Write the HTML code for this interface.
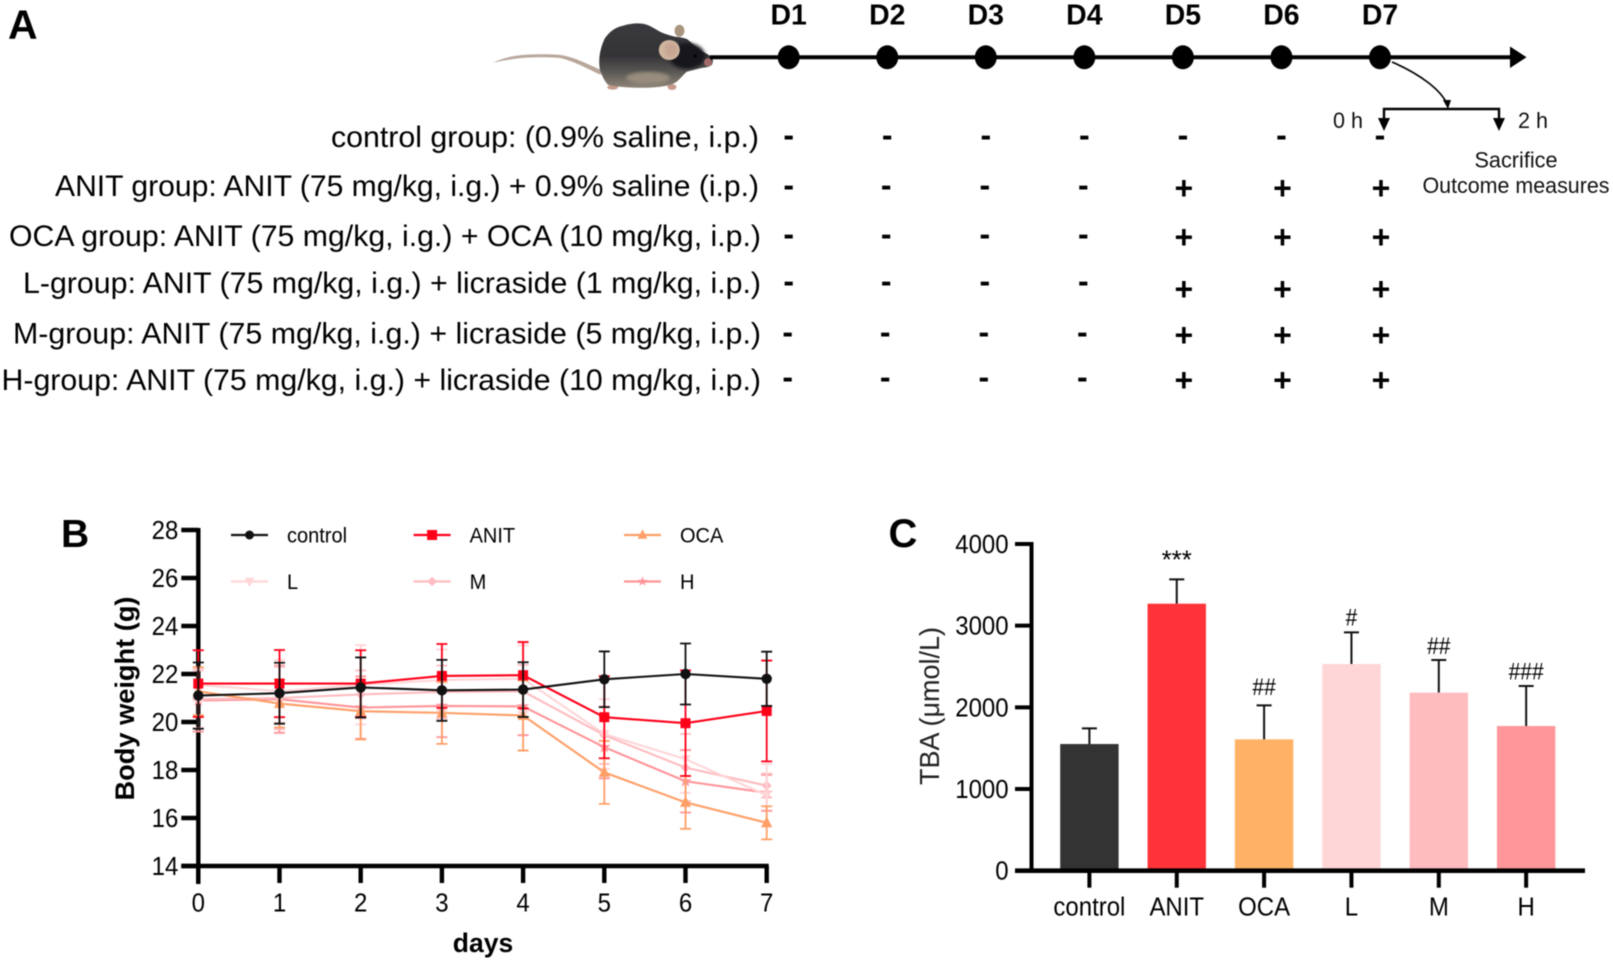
<!DOCTYPE html>
<html lang="en">
<head>
<meta charset="utf-8">
<title>Licraside cholestasis study figure</title>
<style>
html,body{margin:0;padding:0;background:#fff;}
svg{display:block;font-family:"Liberation Sans",Arial,sans-serif;filter:blur(0.4px);}
</style>
</head>
<body>
<svg id="fig" xmlns="http://www.w3.org/2000/svg" width="1613" height="962" viewBox="0 0 1613 962">
  <defs>
    <linearGradient id="furGrad" x1="0" y1="0" x2="0" y2="1">
      <stop offset="0" stop-color="#3a3a3e"/>
      <stop offset="0.5" stop-color="#343336"/>
      <stop offset="0.76" stop-color="#5c5955"/>
      <stop offset="1" stop-color="#8f8578"/>
    </linearGradient>
    <filter id="softBlur"><feGaussianBlur stdDeviation="1.6"/></filter>
  </defs>
  <rect x="0" y="0" width="1613" height="962" fill="#fff"/>

  <text x="8" y="38.5" font-size="41" font-weight="700" fill="#000">A</text>
  <text x="61" y="547" font-size="39" font-weight="700" fill="#000">B</text>
  <text x="888.5" y="547" font-size="40" font-weight="700" fill="#000">C</text>

  <g>
    <path d="M493,62.8 C503,58 512,56 522,55 C536,54 550,54 561,55 C574,57 590,65 601,70 L601,75 C590,70 574,61 560,58 C548,57 534,57 522,58 C512,59 503,60.5 493,62.8 Z" fill="#b9a79c"/>
    <ellipse cx="612.7" cy="87.3" rx="5.5" ry="2.4" fill="#c79a8c"/>
    <ellipse cx="635" cy="85" rx="4" ry="2.6" fill="#b58a78"/>
    <ellipse cx="672" cy="87" rx="4.5" ry="3" fill="#c79a8c"/>
    <path d="M600,70 C598,60 600,48 605,38 C610,31 616,27 623,25.7 C630,23.5 637,23 643,23.7 C650,25 655,29 660,31.7 C665,34 670,35.5 675,36.7 C679,37 683,37.5 687,39 C692,43 696,47 700,50 C705,53 710,55 712.7,58.3 C713,61 713,63 711.7,65 C709,67 706,67.5 703,67.7 C697,69 692,70 686.7,71.7 C683,75 680,79 676.7,81.7 C673,84 670,85 666.7,85.7 C656,87.5 646,88 636.7,87.7 C627,87.5 617,87 608.3,85 C605,82 603,78 600,70 Z" fill="url(#furGrad)"/>
    <ellipse cx="687" cy="56" rx="18" ry="13" fill="#17171a" filter="url(#softBlur)"/>
    <ellipse cx="648" cy="78" rx="22" ry="6" fill="#978c7d" filter="url(#softBlur)"/>
    <ellipse cx="679.5" cy="30.8" rx="5" ry="6" fill="#a9957f"/>
    <ellipse cx="669.3" cy="50" rx="10.5" ry="10" fill="#cfb69f"/>
    <ellipse cx="671" cy="50" rx="6.5" ry="7.5" fill="#c8a593" filter="url(#softBlur)"/>
    <circle cx="695" cy="56" r="1.6" fill="#050505"/>
    <circle cx="708" cy="62.3" r="4" fill="#a56a6a"/>
  </g>

  <g>
    <line x1="710" y1="57.3" x2="1516" y2="57.3" stroke="#000" stroke-width="4"/>
    <polygon points="1510,46.5 1526.5,57.3 1510,68" fill="#000"/>
    <path d="M1392,62 C1420,74 1441,90 1447,104" fill="none" stroke="#000" stroke-width="1.7"/>
    <polygon points="1443,100 1451,100 1448,109" fill="#000"/>
    <path d="M1384,126 L1384,109 L1499,109 L1499,126" fill="none" stroke="#000" stroke-width="2.4"/>
    <polygon points="1378,118 1390,118 1384,131" fill="#000"/>
    <polygon points="1493,118 1505,118 1499,131" fill="#000"/>
    <text x="1348" y="128" font-size="22" text-anchor="middle" fill="#111" textLength="30" lengthAdjust="spacingAndGlyphs">0 h</text>
    <text x="1533" y="128" font-size="22" text-anchor="middle" fill="#111" textLength="30" lengthAdjust="spacingAndGlyphs">2 h</text>
    <text x="1516" y="167.5" font-size="22" text-anchor="middle" fill="#111" textLength="83" lengthAdjust="spacingAndGlyphs">Sacrifice</text>
    <text x="1516" y="193" font-size="22" text-anchor="middle" fill="#111" textLength="187" lengthAdjust="spacingAndGlyphs">Outcome measures</text>
  </g>
  <g id="schedule"></g>

  <g id="chartB"></g>
  <g id="chartC"></g>
</svg>

<script>
/* ---------- panel A schedule ---------- */
var dayNames = ['D1','D2','D3','D4','D5','D6','D7'];
var groupLabels = [
  'control group: (0.9% saline, i.p.)',
  'ANIT group: ANIT (75 mg/kg, i.g.) + 0.9% saline (i.p.)',
  'OCA group: ANIT (75 mg/kg, i.g.) + OCA (10 mg/kg, i.p.)',
  'L-group: ANIT (75 mg/kg, i.g.) + licraside (1 mg/kg, i.p.)',
  'M-group: ANIT (75 mg/kg, i.g.) + licraside (5 mg/kg, i.p.)',
  'H-group: ANIT (75 mg/kg, i.g.) + licraside (10 mg/kg, i.p.)'
];
var groupMarks = ['-------','----+++','----+++','----+++','----+++','----+++'];

/* ---------- panel B data ---------- */
var bDays = [0,1,2,3,4,5,6,7];
var bYTicks = [14,16,18,20,22,24,26,28];
var seriesNames = ['control','ANIT','OCA','L','M','H'];
var controlMeans = [21.1,21.2,21.44,21.32,21.35,21.78,22.0,21.8];
var controlErrors = [1.38,1.27,1.25,1.27,1.14,1.16,1.27,1.13];
var anitMeans = [21.6,21.6,21.6,21.92,21.95,20.2,19.95,20.46];
var anitErrors = [1.39,1.4,1.39,1.33,1.38,1.71,2.2,2.1];
var ocaMeans = [21.28,20.77,20.45,20.38,20.27,17.9,16.65,15.8];
var ocaErrors = [1.0,1.0,1.18,1.29,1.46,1.31,1.1,0.69];
var lMeans = [21.55,21.28,21.55,21.75,21.8,19.5,18.45,16.95];
var lErrors = [0.65,1.3,1.65,1.27,1.4,1.45,1.4,1.3];
var mMeans = [20.95,21.0,21.15,21.25,21.28,19.45,18.1,17.35];
var mErrors = [1.2,1.3,1.0,1.1,1.1,1.2,1.4,0.5];
var hMeans = [20.9,20.95,20.6,20.67,20.65,18.95,17.53,17.05];
var hErrors = [1.3,1.4,1.3,1.3,1.2,1.3,1.3,0.75];

/* ---------- panel C data ---------- */
var cCategories = ['control','ANIT','OCA','L','M','H'];
var cValues = [1551,3269,1608,2531,2180,1771];
var cErrorTops = [1743,3567,2024,2918,2580,2261];
var cSignificance = ['','***','##','#','##','###'];
var cYTicks = [0,1000,2000,3000,4000];

var NS = 'http://www.w3.org/2000/svg';
function make(parent, tag, attrs, txt){
  var el = document.createElementNS(NS, tag);
  for (var k in attrs) el.setAttribute(k, attrs[k]);
  if (txt !== undefined) el.textContent = txt;
  parent.appendChild(el);
  return el;
}
/* horizontally condense text: the reference type is taller than it is wide */
function squeeze(el, ratio){
  var w = el.getComputedTextLength();
  el.setAttribute('textLength', (w * ratio).toFixed(2));
  el.setAttribute('lengthAdjust', 'spacingAndGlyphs');
}

/* ===== panel A ===== */
(function(){
  var root = document.getElementById('schedule');
  var dayX = function(i){ return 788.7 + i * 98.55; };
  var rowY = function(r){ return [138,188,237,284,335,380][r]; };
  var labelBase = [147,196,246,293,343.5,390];
  var labelLeft = [331,55,9,23,13,1.5];
  var labelRight = [759,759,761,761,761,761];
  dayNames.forEach(function(name,i){
    var t = make(root,'text',{x:dayX(i),y:24.5,'font-size':29,'font-weight':700,'text-anchor':'middle',fill:'#000'},name);
    
    
    squeeze(t, 0.98);
    var c = make(root,'ellipse',{cx:dayX(i),cy:57.3,rx:11,ry:12,fill:'#000'});
    
    
  });
  groupLabels.forEach(function(label,r){
    var t = make(root,'text',{x:labelLeft[r],y:labelBase[r],'font-size':29.5,fill:'#000',textLength:labelRight[r]-labelLeft[r],lengthAdjust:'spacingAndGlyphs'},label);
    
    
    groupMarks[r].split('').forEach(function(m,i){
      var shift = m === '-' ? (r >= 4 ? -2 : (r >= 1 ? -1 : 0)) : 1;
      if (i === 0) shift = r >= 4 ? -1 : 0;
      var base = rowY(r) + (m === '-' ? 8 : 11);
      if (m === '+' && r === 3) base += 5;
      var s = make(root,'text',{x:dayX(i)+shift,y:base,'font-size':32,'font-weight':700,'text-anchor':'middle',fill:'#000'},m);
      
      
    });
  });
})();

/* ===== panel B ===== */
(function(){
  var root = document.getElementById('chartB');
  var x = function(d){ return 198.3 + d * 81.2; };
  var y = function(v){ return 866 - (v - 14) * 24; };

  var yAxis = make(root,'line',{x1:x(0),y1:y(28)-2,x2:x(0),y2:y(14)+18,stroke:'#000','stroke-width':4.4});
  
  
  var xAxis = make(root,'line',{x1:x(0)-17,y1:y(14),x2:x(7)+2,y2:y(14),stroke:'#000','stroke-width':4.4});
  
  

  bYTicks.forEach(function(v){
    var tick = make(root,'line',{x1:x(0)-17,y1:y(v),x2:x(0),y2:y(v),stroke:'#000','stroke-width':4.4});
    
    
    var lab = make(root,'text',{x:x(0)-20,y:y(v)+9,'font-size':25.5,'text-anchor':'end',fill:'#000'},v);
    
    
    squeeze(lab, 0.94);
  });
  bDays.forEach(function(d){
    var tick = make(root,'line',{x1:x(d),y1:y(14),x2:x(d),y2:y(14)+17,stroke:'#000','stroke-width':4.4});
    
    
    var lab = make(root,'text',{x:x(d),y:911.5,'font-size':25.5,'text-anchor':'middle',fill:'#000'},d);
    
    
    squeeze(lab, 0.94);
  });

  var xTitle = make(root,'text',{x:483,y:952,'font-size':26.5,'font-weight':700,'text-anchor':'middle',fill:'#000'},'days');
  
  
  var yTitle = make(root,'text',{x:0,y:0,'font-size':27,'font-weight':700,'text-anchor':'middle',fill:'#000',textLength:204,lengthAdjust:'spacingAndGlyphs',transform:'translate(134,698.5) rotate(-90)'},'Body weight (g)');
  
  

  function marker(parent, shape, cx, cy, color, size){
    var el;
    if (shape === 'circle') {
      el = make(parent,'circle',{cx:cx,cy:cy,r:size,fill:color});
    } else if (shape === 'square') {
      el = make(parent,'rect',{x:cx-size,y:cy-size,width:size*2,height:size*2,fill:color});
    } else if (shape === 'up') {
      el = make(parent,'polygon',{points:[cx,cy-size-1,cx+size,cy+size-1,cx-size,cy+size-1].join(' '),fill:color});
    } else if (shape === 'down') {
      el = make(parent,'polygon',{points:[cx-size,cy-size+1,cx+size,cy-size+1,cx,cy+size+1].join(' '),fill:color});
    } else if (shape === 'diamond') {
      el = make(parent,'polygon',{points:[cx,cy-size,cx+size,cy,cx,cy+size,cx-size,cy].join(' '),fill:color});
    } else {
      var pts = [];
      for (var i = 0; i < 10; i++) {
        var a = -Math.PI/2 + i*Math.PI/5, r = i%2 ? size*0.42 : size*1.1;
        pts.push(cx + r*Math.cos(a), cy + r*Math.sin(a));
      }
      el = make(parent,'polygon',{points:pts.join(' '),fill:color});
    }
    return el;
  }

  var draws = [
    {n:'H',m:hMeans,e:hErrors,c:'#ff9499',s:'star',z:6},
    {n:'M',m:mMeans,e:mErrors,c:'#ffbcc0',s:'diamond',z:5},
    {n:'L',m:lMeans,e:lErrors,c:'#ffd5d8',s:'down',z:5},
    {n:'OCA',m:ocaMeans,e:ocaErrors,c:'#ff9e66',s:'up',z:5.5},
    {n:'ANIT',m:anitMeans,e:anitErrors,c:'#ff0019',s:'square',z:5},
    {n:'control',m:controlMeans,e:controlErrors,c:'#111111',s:'circle',z:5.2}
  ];
  draws.forEach(function(sr){
    var g = make(root,'g',{});
    
    
    bDays.forEach(function(d,i){
      var top = y(sr.m[i] + sr.e[i]), bot = y(sr.m[i] - sr.e[i]), cx = x(d);
      var eb = make(g,'path',{d:'M'+(cx-5.5)+','+top+'H'+(cx+5.5)+'M'+cx+','+top+'V'+bot+'M'+(cx-5.5)+','+bot+'H'+(cx+5.5),fill:'none',stroke:sr.c,'stroke-width':1.8});
      
      
    });
    var pts = bDays.map(function(d,i){ return x(d)+','+y(sr.m[i]); }).join(' ');
    var line = make(g,'polyline',{points:pts,fill:'none',stroke:sr.c,'stroke-width':2.1});
    
    
    bDays.forEach(function(d,i){
      var mk = marker(g, sr.s, x(d), y(sr.m[i]), sr.c, sr.z);
      
      
    });
  });

  /* legend */
  var legendColumns = [231,413.6,624];
  var legendRows = [535,581.5];
  var legendOrder = ['control','ANIT','OCA','L','M','H'];
  var bySeries = {};
  draws.forEach(function(d){ bySeries[d.n] = d; });
  legendOrder.forEach(function(name,i){
    var col = legendColumns[i%3], row = legendRows[Math.floor(i/3)];
    var sr = bySeries[name];
    var g = make(root,'g',{});
    
    
    var ln = make(g,'line',{x1:col,y1:row,x2:col+37,y2:row,stroke:sr.c,'stroke-width':2.2});
    
    
    var mk = marker(g, sr.s, col+18.5, row, sr.c, name==='control'?4.5:name==='ANIT'?5:4.8);
    
    
    var tx = make(g,'text',{x:col+56,y:row+7.5,'font-size':21.5,fill:'#000'},name);
    
    
    squeeze(tx, 0.93);
  });
})();

/* ===== panel C ===== */
(function(){
  var root = document.getElementById('chartC');
  var x = function(i){ return 1089.4 + i * 87.35; };
  var y = function(v){ return 870.7 - v * (326.7/4000); };
  var barColors = ['#333333','#ff3339','#ffb266','#ffd6d8','#ffbcbf','#ff9699'];
  var markGaps = [0,24,19,15.6,14.5,15];
  var barW = 58.4;

  cCategories.forEach(function(name,i){
    var eb = make(root,'path',{d:'M'+(x(i)-7.5)+','+y(cErrorTops[i])+'H'+(x(i)+7.5)+'M'+x(i)+','+y(cErrorTops[i])+'V'+y(cValues[i]),fill:'none',stroke:'#111','stroke-width':2});
    
    
    var b = make(root,'rect',{x:x(i)-barW/2,y:y(cValues[i]),width:barW,height:y(0)-y(cValues[i]),fill:barColors[i]});
    
    
    if (cSignificance[i]) {
      var isStar = cSignificance[i].charAt(0) === '*';
      var size = isStar ? 26 : 24;
      var center = y(cErrorTops[i]) - markGaps[i];
      var s = make(root,'text',{x:x(i),y:center + (isStar ? 13 : 8.5),'font-size':size,'text-anchor':'middle',fill:'#000'},cSignificance[i]);
      
      
      if (!isStar) squeeze(s, 0.875);
    }
    var tick = make(root,'line',{x1:x(i),y1:y(0),x2:x(i),y2:y(0)+17,stroke:'#000','stroke-width':4});
    
    
    var lab = make(root,'text',{x:x(i),y:915.5,'font-size':25.5,'text-anchor':'middle',fill:'#000'},name);
    
    
    squeeze(lab, 0.94);
  });

  var yAxis = make(root,'line',{x1:1031.5,y1:y(4000)-2,x2:1031.5,y2:y(0)+2,stroke:'#000','stroke-width':4});
  
  
  var xAxis = make(root,'line',{x1:1015,y1:y(0),x2:1585,y2:y(0),stroke:'#000','stroke-width':4.6});
  
  

  cYTicks.forEach(function(v){
    var tick = make(root,'line',{x1:1015,y1:y(v),x2:1031.5,y2:y(v),stroke:'#000','stroke-width':4});
    
    
    var lab = make(root,'text',{x:1008.6,y:y(v)+9,'font-size':25.5,'text-anchor':'end',fill:'#000'},v);
    
    
    squeeze(lab, 0.94);
  });

  var yTitle = make(root,'text',{x:0,y:0,'font-size':27.5,'text-anchor':'middle',fill:'#222',textLength:158,lengthAdjust:'spacingAndGlyphs',transform:'translate(939,706) rotate(-90)'},'TBA (\u03BCmol/L)');
  
  
})();
</script>
</body>
</html>
